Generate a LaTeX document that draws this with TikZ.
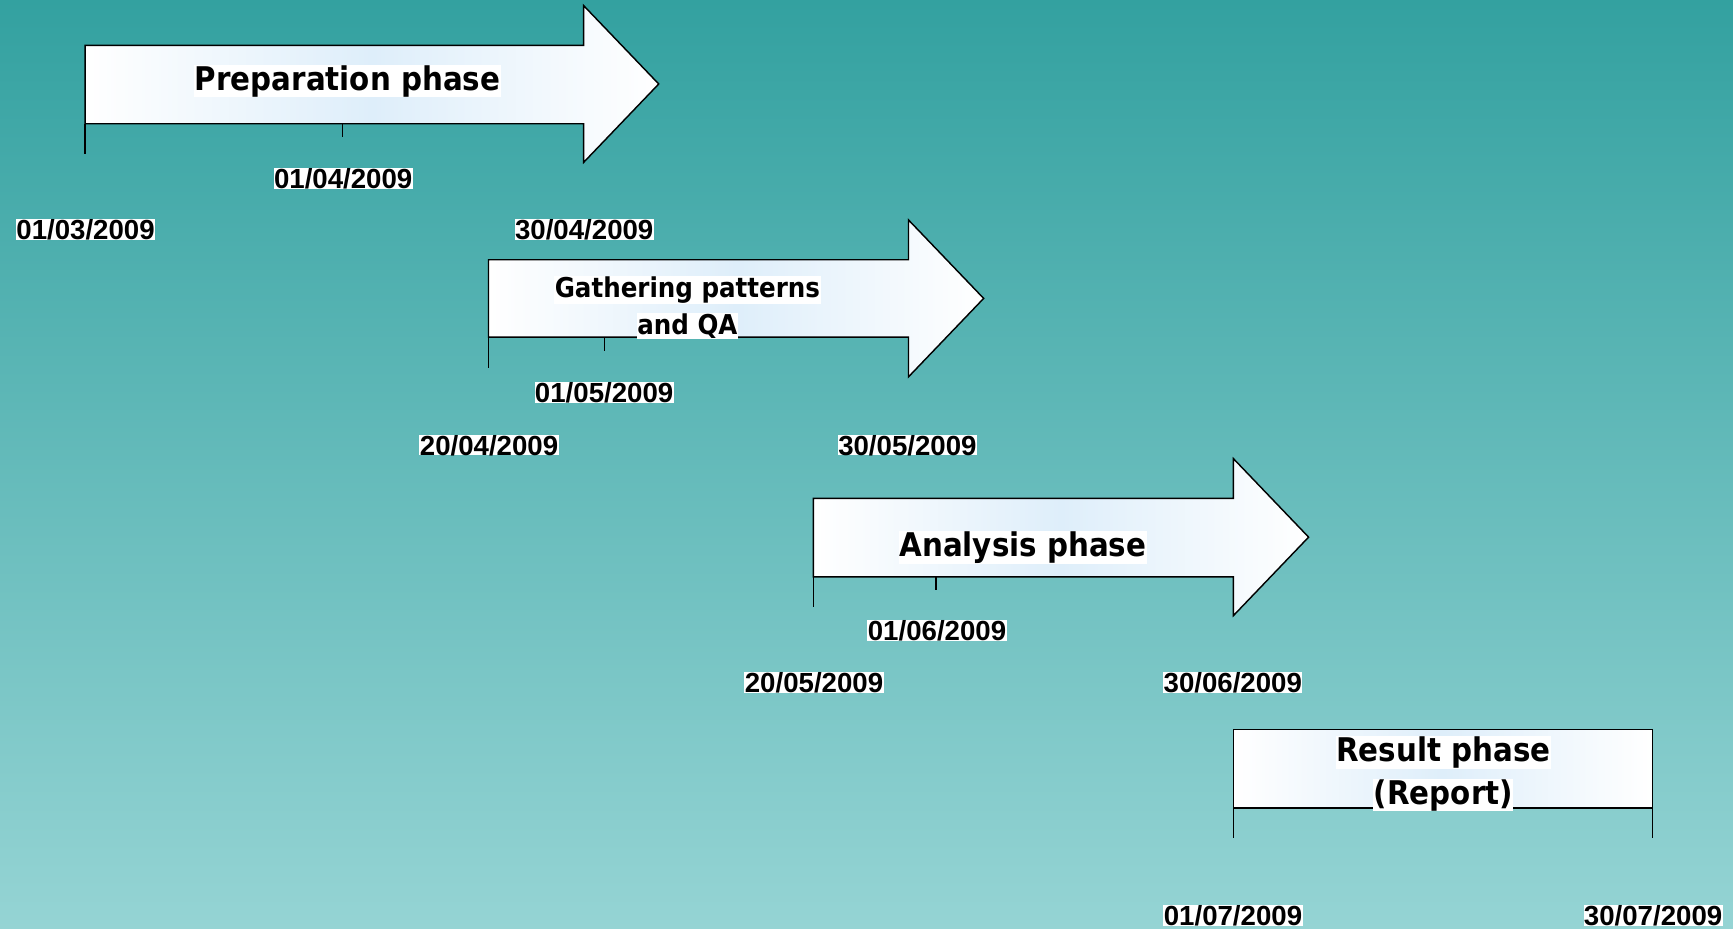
\documentclass[tikz,border=0pt]{standalone}
\usepackage{fontspec}
\newfontfamily\phasefont{DejaVu Sans Condensed Bold}
\newfontfamily\datefont{Liberation Sans Bold}
\usetikzlibrary{shapes}
\definecolor{topTeal}{RGB}{51,161,160}
\definecolor{bottomTeal}{RGB}{149,212,212}
\definecolor{paleBlue}{RGB}{222,238,250}

\begin{document}
\begin{tikzpicture}[x = 1pt, y = 1pt]
	\tikzstyle{arrowStyle} = [draw, line width = 1.3pt, line join = miter, left color = white, right color = white, middle color = paleBlue]
	\tikzstyle{tickStyle} = [draw, line width = 1.3pt]
	\tikzstyle{phaseStyle} = [fill = white, inner sep = 0.5pt, font = \phasefont\fontsize{29.5}{30}\selectfont]
	\tikzstyle{smallPhaseStyle} = [fill = white, inner sep = 0.5pt, font = \phasefont\fontsize{24.7}{25}\selectfont]
	\tikzstyle{dateStyle} = [fill = white, inner sep = 0.4pt, text height = 18pt, text depth = 0pt, font = \datefont\fontsize{25}{25}\selectfont]
	\useasboundingbox (0,0) rectangle (1568,840);
	\shade[top color = topTeal, bottom color = bottomTeal] (0,0) rectangle (1568,840);
	% arrows
	\draw[arrowStyle] (77,799) -- (528,799) -- (528,835) -- (596,764) -- (528,693) -- (528,728) -- (77,728) -- cycle;
	\draw[arrowStyle] (442,605) -- (822,605) -- (822,641) -- (890,570) -- (822,499) -- (822,535) -- (442,535) -- cycle;
	\draw[arrowStyle] (736,389) -- (1116,389) -- (1116,425) -- (1184,354) -- (1116,283) -- (1116,318) -- (736,318) -- cycle;
	\draw[arrowStyle] (1116,109) rectangle (1495,180);
	% ticks
	\draw[tickStyle] (77,728) -- (77,701);
	\draw[tickStyle] (310,728) -- (310,716);
	\draw[tickStyle] (442,535) -- (442,507);
	\draw[tickStyle] (547,535) -- (547,522);
	\draw[tickStyle] (736,318) -- (736,291);
	\draw[tickStyle] (847,318) -- (847,306);
	\draw[tickStyle] (1116,109) -- (1116,82);
	\draw[tickStyle] (1495,109) -- (1495,82);
	% phases
	\node[phaseStyle] (prep) at (314.5,766.6) {Preparation phase};
	\node[smallPhaseStyle] (gatherA) at (622,577.5) {Gathering patterns};
	\node[smallPhaseStyle] (gatherB) at (622,544.7) {and QA};
	\node[phaseStyle] (analysis) at (925.5,344.9) {Analysis phase};
	\node[phaseStyle] (resultA) at (1306,159) {Result phase};
	\node[phaseStyle] (resultB) at (1306,120.6) {(Report)};
	% dates
	\node[dateStyle] (d1) at (77.4,632) {01/03/2009};
	\node[dateStyle] (d2) at (310.5,678.6) {01/04/2009};
	\node[dateStyle] (d3) at (528.6,632) {30/04/2009};
	\node[dateStyle] (d4) at (442.5,437.3) {20/04/2009};
	\node[dateStyle] (d5) at (546.6,484.7) {01/05/2009};
	\node[dateStyle] (d6) at (821,437.3) {30/05/2009};
	\node[dateStyle] (d7) at (736.5,222.3) {20/05/2009};
	\node[dateStyle] (d8) at (847.8,269.4) {01/06/2009};
	\node[dateStyle] (d9) at (1115.4,222.3) {30/06/2009};
	\node[dateStyle] (d10) at (1115.6,12) {01/07/2009};
	\node[dateStyle] (d11) at (1495.7,12) {30/07/2009};
\end{tikzpicture}
\end{document}
